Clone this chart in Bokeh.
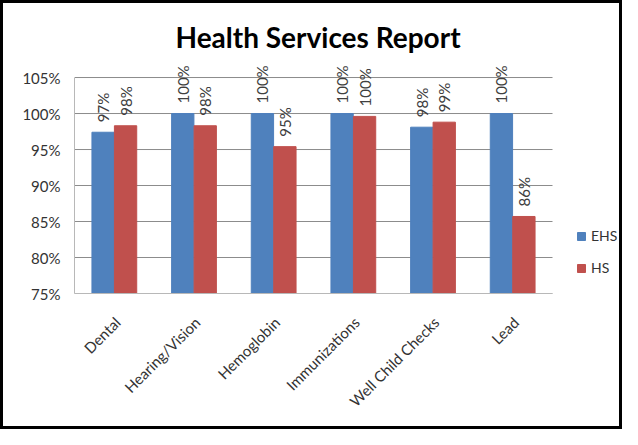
from math import pi
from bokeh.plotting import figure
from bokeh.models import ColumnDataSource, Legend, LegendItem, PrintfTickFormatter, Range1d, FixedTicker
from bokeh.transform import dodge
from bokeh.core.properties import value
from bokeh.embed import file_html
from bokeh.resources import INLINE

categories = ["Dental", "Hearing/Vision", "Hemoglobin", "Immunizations", "Well Child Checks", "Lead"]
ehs = [97.4, 100.0, 100.0, 100.0, 98.1, 100.0]
hs = [98.3, 98.3, 95.4, 99.6, 98.8, 85.7]
y_ticks = [75, 80, 85, 90, 95, 100, 105]

FONT = "Lato"
BLUE = "#4F81BD"
RED = "#C0504D"

n = len(categories)
xc = [i + 0.5 for i in range(n)]
label_pos = [x + 0.04 for x in xc]  # rotated category labels end just right of the slot centre

src = ColumnDataSource(dict(
    x=xc,
    ehs=ehs,
    hs=hs,
    ehs_lab=[f"{round(v)}%" for v in ehs],
    hs_lab=[f"{round(v)}%" for v in hs],
))

W, H = 622, 429
LEFT, RIGHT, TOP, BOTTOM = 71, 0, 52, 139
frame_w = W - LEFT - RIGHT
cat_px = 478 / n  # pixel width of one category slot

p = figure(
    width=W, height=H,
    x_range=Range1d(0, frame_w / cat_px),
    y_range=Range1d(75, 108.06),
    output_backend="svg", toolbar_location=None,
    min_border_left=LEFT, min_border_right=RIGHT, min_border_top=TOP, min_border_bottom=BOTTOM,
    title="Health Services Report",
)
p.styles = {"border": "3px solid black"}

p.title.align = "left"
p.title.offset = 101
p.title.text_font = FONT
p.title.text_font_size = "28px"
p.title.text_font_style = "bold"
p.title.text_color = "black"
p.title.standoff = 4

# horizontal gridlines spanning only the category area
p.segment(x0=0, x1=n, y0=y_ticks, y1=y_ticks, line_color="#8c8c8c", line_width=1)

w = 0.28
r1 = p.vbar(x=dodge("x", -0.141), top="ehs", bottom=75, width=w,
            source=src, fill_color=BLUE, line_color=BLUE)
r2 = p.vbar(x=dodge("x", 0.141), top="hs", bottom=75, width=w,
            source=src, fill_color=RED, line_color=RED)

for col, lab, off in (("ehs", "ehs_lab", -0.141), ("hs", "hs_lab", 0.141)):
    p.text(x=dodge("x", off), y=col, text=lab, source=src,
           angle=pi / 2, text_align="left", text_baseline="middle", y_offset=-10,
           text_font=value(FONT), text_font_size="15px", text_color="#404040")

p.yaxis.ticker = y_ticks
p.yaxis.bounds = (75, 105)
p.yaxis.formatter = PrintfTickFormatter(format="%d%%")
p.xaxis.ticker = FixedTicker(ticks=label_pos)
p.xaxis.major_label_overrides = {x: c for x, c in zip(label_pos, categories)}
p.xaxis.bounds = (0, n)
for ax in (p.xaxis, p.yaxis):
    ax.major_label_text_font = FONT
    ax.major_label_text_font_size = "15px"
    ax.major_label_text_color = "#333333"
    ax.axis_line_color = "#b8b8b8"
    ax.major_tick_line_color = None
    ax.minor_tick_line_color = None
p.xaxis.major_label_orientation = pi / 4
p.xaxis.major_label_standoff = 20
p.yaxis.major_label_standoff = 8

p.xgrid.grid_line_color = None
p.ygrid.grid_line_color = None
p.outline_line_color = None

legend = Legend(items=[LegendItem(label="EHS", renderers=[r1]), LegendItem(label="HS", renderers=[r2])],
                location=(502, 17))
legend.label_text_font = FONT
legend.label_text_font_size = "14px"
legend.label_text_color = "#333333"
legend.glyph_width = 10
legend.glyph_height = 10
legend.label_height = 16
legend.spacing = 15
legend.padding = 0
legend.margin = 0
legend.label_standoff = 5
legend.border_line_color = None
legend.background_fill_alpha = 0
p.add_layout(legend, "center")

open("out.html", "w").write(file_html(p, INLINE))
